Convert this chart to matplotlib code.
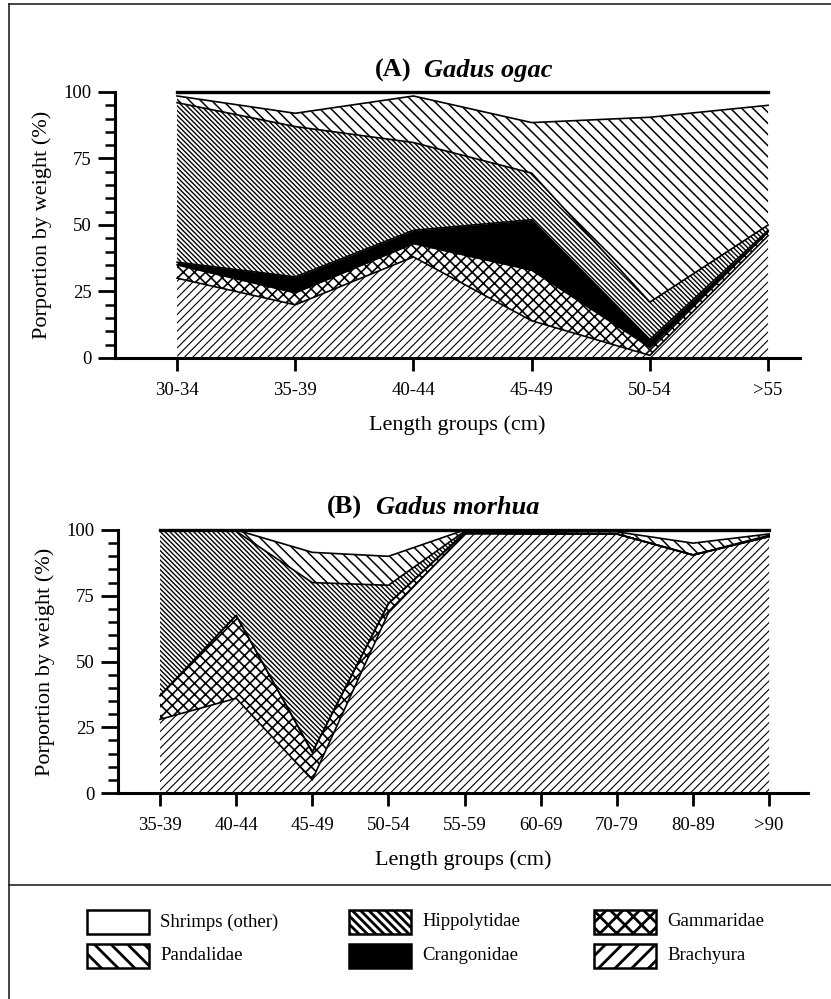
import matplotlib
matplotlib.use("Agg")

import matplotlib.pyplot as plt
import numpy as np
from matplotlib.lines import Line2D
from matplotlib.patches import Rectangle
from matplotlib.ticker import MultipleLocator

plt.rcParams["font.family"] = ["Liberation Serif", "DejaVu Serif"]

W, H = 831, 999

# ─── Data: proportion by weight (%) of each prey group ───────────────────────
ogac_groups = ["30-34", "35-39", "40-44", "45-49", "50-54", ">55"]
ogac_brachyura = [30, 20, 38, 14, 1, 46]
ogac_gammaridae = [5, 4.5, 5, 19, 3, 1.5]
ogac_crangonidae = [1, 6, 5, 19, 3, 0.5]
ogac_hippolytidae = [60, 56.5, 33, 17.5, 14, 2]
ogac_pandalidae = [2.5, 5, 17.5, 19, 69.5, 45]
ogac_other = [1.5, 8, 1.5, 11.5, 9.5, 5]

morhua_groups = ["35-39", "40-44", "45-49", "50-54", "55-59",
                 "60-69", "70-79", "80-89", ">90"]
morhua_brachyura = [28, 36, 5, 68.5, 98.5, 98.5, 98.5, 90.5, 97.5]
morhua_gammaridae = [9, 31.5, 10.5, 3.5, 0.5, 0, 0, 0, 0]
morhua_crangonidae = [0, 0, 0, 0, 0, 0, 0, 0, 0]
morhua_hippolytidae = [63, 32, 64.5, 7, 0.5, 0.5, 0, 0, 0.5]
morhua_pandalidae = [0, 0.5, 11.5, 11, 0.5, 0.5, 0.8, 4.5, 0.5]
morhua_other = [0, 0, 8.5, 10, 0, 0.5, 0.7, 5, 1.5]

layer_names = ["Brachyura", "Gammaridae", "Crangonidae",
               "Hippolytidae", "Pandalidae", "Shrimps (other)"]

STYLES = {
    "Shrimps (other)": dict(fc="white", hatch=None, hlw=1.0),
    "Pandalidae": dict(fc="white", hatch="\\" * 3, hlw=1.1),
    "Hippolytidae": dict(fc="white", hatch="\\" * 7, hlw=1.0),
    "Crangonidae": dict(fc="black", hatch=None, hlw=1.0),
    "Gammaridae": dict(fc="white", hatch="xxx", hlw=1.2),
    "Brachyura": dict(fc="white", hatch="////", hlw=0.8),
}
# coarser hatches for the small legend boxes
LEGEND_HATCH = {
    "Pandalidae": "\\\\", "Hippolytidae": "\\" * 4,
    "Gammaridae": "xx", "Brachyura": "//",
}


def fx(px):
    return px / W


def fy(py):
    return 1 - py / H


def draw_panel(ax, labels, layers, xlim):
    x = np.arange(len(labels))
    base = np.zeros(len(labels))
    for i, (name, vals) in enumerate(zip(layer_names, layers)):
        top = base + np.asarray(vals, dtype=float)
        st = STYLES[name]
        with plt.rc_context({"hatch.linewidth": st["hlw"]}):
            ax.fill_between(x, base, top, facecolor=st["fc"],
                            edgecolor="black", hatch=st["hatch"],
                            linewidth=0, zorder=2)
        lw = 2.4 if i == len(layers) - 1 else 1.2
        ax.plot(x, top, color="black", lw=lw, zorder=3, clip_on=False)
        base = top

    ax.set_xlim(*xlim)
    ax.set_ylim(0, 100)
    ax.set_xticks(x)
    ax.set_xticklabels(labels, fontsize=13.5)
    ax.set_yticks([0, 25, 50, 75, 100])
    ax.yaxis.set_minor_locator(MultipleLocator(5))
    ax.tick_params(axis="y", which="major", direction="out", length=12,
                   width=2, labelsize=13.5, pad=5)
    ax.tick_params(axis="y", which="minor", direction="out", length=7,
                   width=1.8)
    ax.tick_params(axis="x", direction="out", length=9, width=2, pad=8)
    for side in ("top", "right"):
        ax.spines[side].set_visible(False)
    for side in ("left", "bottom"):
        ax.spines[side].set_linewidth(2.2)
    ax.set_ylabel("Porportion by weight (%)", fontsize=16, labelpad=8)
    ax.set_xlabel("Length groups (cm)", fontsize=16, labelpad=12)


fig = plt.figure(figsize=(W / 100, H / 100), dpi=100)

# ─── Panel A: Gadus ogac ─────────────────────────────────────────────────────
ax1 = fig.add_axes([fx(115), fy(358), fx(800) - fx(115), (358 - 92) / H])
draw_panel(ax1, ogac_groups,
           [ogac_brachyura, ogac_gammaridae, ogac_crangonidae,
            ogac_hippolytidae, ogac_pandalidae, ogac_other],
           (-0.525, 5.27))

# ─── Panel B: Gadus morhua ───────────────────────────────────────────────────
ax2 = fig.add_axes([fx(118), fy(793), fx(808) - fx(118), (793 - 530) / H])
draw_panel(ax2, morhua_groups,
           [morhua_brachyura, morhua_gammaridae, morhua_crangonidae,
            morhua_hippolytidae, morhua_pandalidae, morhua_other],
           (-0.552, 8.51))

# titles
for tag, species, x0, ybase in [("(A)", "Gadus ogac", 375, 77),
                                ("(B)", "Gadus morhua", 327, 514)]:
    fig.text(fx(x0), fy(ybase), tag, fontsize=19, fontweight="bold",
             va="baseline", ha="left")
    fig.text(fx(x0 + 49), fy(ybase), species, fontsize=19,
             fontweight="bold", fontstyle="italic", va="baseline", ha="left")

# frame lines
for xs, ys in [((9, 9), (4, 999)), ((9, 831), (4, 4)), ((9, 831), (885, 885))]:
    fig.add_artist(Line2D([fx(xs[0]), fx(xs[1])], [fy(ys[0]), fy(ys[1])],
                          transform=fig.transFigure, color="#222222", lw=1.2))

# ─── Legend ──────────────────────────────────────────────────────────────────
legend_slots = [
    ("Shrimps (other)", 87, 910), ("Pandalidae", 87, 944),
    ("Hippolytidae", 349, 910), ("Crangonidae", 349, 944),
    ("Gammaridae", 594, 910), ("Brachyura", 594, 944),
]
for name, bx, by in legend_slots:
    st = STYLES[name]
    with plt.rc_context({"hatch.linewidth": 2.0}):
        rect = Rectangle((fx(bx), fy(by + 24)), 62 / W, 24 / H,
                         transform=fig.transFigure, facecolor=st["fc"],
                         edgecolor="black", hatch=LEGEND_HATCH.get(name),
                         lw=1.8)
    fig.add_artist(rect)
    fig.text(fx(bx + 73), fy(by + 12), name, fontsize=13.5,
             va="center", ha="left")

fig.savefig("out.png", dpi=100)
